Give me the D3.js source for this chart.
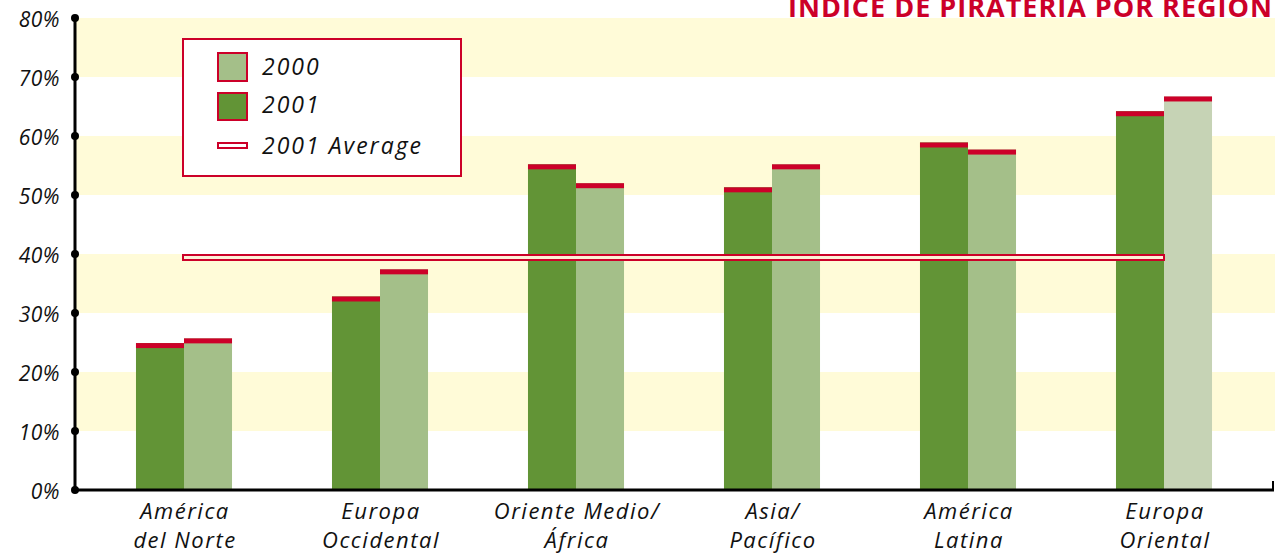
<!DOCTYPE html>
<html>
<head>
<meta charset="utf-8">
<script src="https://cdn.jsdelivr.net/npm/d3@7"></script>
<style>
  body { margin: 0; background: #fff; }
  svg { display: block; }
  text { font-family: "Open Sans", sans-serif; font-style: italic; fill: #111; }
</style>
</head>
<body>
<div id="chart"></div>
<script>
// data
var regions = ["América|del Norte", "Europa|Occidental", "Oriente Medio/|África",
               "Asia/|Pacífico", "América|Latina", "Europa|Oriental"];
var values2001 = [24.9, 32.8, 55.2, 51.3, 58.9, 64.2];
var values2000 = [25.7, 37.4, 52.0, 55.2, 57.7, 66.7];
var average2001 = 40;
var yTicks = [0, 10, 20, 30, 40, 50, 60, 70, 80];
var bandStarts = [10, 30, 50, 70];
var legendLabels = ["2000", "2001", "2001 Average"];
var title = "INDICE DE PIRATERIA POR REGION";

var width = 1275, height = 555;
var red = "#cc0029", dark = "#629436", light = "#a4bf89", paler = "#c6d3b5", cream = "#fffbd8";

var svg = d3.select("#chart").append("svg")
  .attr("width", width)
  .attr("height", height);

var yScale = d3.scaleLinear().domain([0, 80]).range([490, 18]);

var xScale = d3.scaleBand()
  .domain(regions)
  .range([86, 1262])
  .paddingInner(0.51)
  .paddingOuter(0.255);

var sub = d3.scaleBand()
  .domain(["2001", "2000"])
  .range([0, xScale.bandwidth()]);

// alternating background bands
svg.selectAll(".band")
  .data(bandStarts)
  .enter()
  .append("rect")
  .attr("class", "band")
  .attr("x", 75)
  .attr("y", function(d) { return yScale(d + 10); })
  .attr("width", width - 75)
  .attr("height", function(d) { return yScale(d) - yScale(d + 10); })
  .style("fill", cream);

// title (cut by the top edge, as in the original)
svg.append("text")
  .attr("x", 1273)
  .attr("y", 17)
  .attr("text-anchor", "end")
  .style("font-style", "normal")
  .style("font-weight", "bold")
  .style("font-size", "27px")
  .style("letter-spacing", "1px")
  .style("fill", red)
  .text(title);

// bars
var rows = regions.map(function(r, i) {
  return [
    {region: r, key: "2001", value: values2001[i], i: i},
    {region: r, key: "2000", value: values2000[i], i: i}
  ];
});

var groups = svg.selectAll(".group")
  .data(rows)
  .enter()
  .append("g")
  .attr("class", "group")
  .attr("transform", function(d, i) { return "translate(" + xScale(regions[i]) + ",0)"; });

groups.selectAll(".bar")
  .data(function(d) { return d; })
  .enter()
  .append("rect")
  .attr("class", "bar")
  .attr("x", function(d) { return sub(d.key); })
  .attr("y", function(d) { return yScale(d.value); })
  .attr("width", sub.bandwidth())
  .attr("height", function(d) { return yScale(0) - yScale(d.value); })
  .style("fill", function(d) {
    if (d.key == "2001") return dark;
    return d.i == regions.length - 1 ? paler : light;
  });

groups.selectAll(".cap")
  .data(function(d) { return d; })
  .enter()
  .append("rect")
  .attr("class", "cap")
  .attr("x", function(d) { return sub(d.key); })
  .attr("y", function(d) { return yScale(d.value); })
  .attr("width", sub.bandwidth())
  .attr("height", 5)
  .style("fill", red);

// average line
var avgX0 = xScale(regions[0]) + sub("2000") - 1;
var avgX1 = xScale(regions[regions.length - 1]) + sub("2000");
svg.append("rect")
  .attr("x", avgX0)
  .attr("y", yScale(average2001) + 1)
  .attr("width", avgX1 - avgX0)
  .attr("height", 5)
  .style("fill", "#fdf0d8")
  .style("stroke", red)
  .style("stroke-width", 2);

// axes
svg.append("line")
  .attr("x1", 75).attr("x2", 75)
  .attr("y1", yScale(80)).attr("y2", yScale(0))
  .style("stroke", "#000").style("stroke-width", 3);

svg.append("line")
  .attr("x1", 75).attr("x2", 1274)
  .attr("y1", yScale(0)).attr("y2", yScale(0))
  .style("stroke", "#000").style("stroke-width", 3);

svg.append("line")
  .attr("x1", 1273).attr("x2", 1273)
  .attr("y1", yScale(0) - 9).attr("y2", yScale(0))
  .style("stroke", "#000").style("stroke-width", 2);

svg.selectAll(".dot")
  .data(yTicks)
  .enter()
  .append("circle")
  .attr("cx", 75)
  .attr("cy", function(d) { return yScale(d); })
  .attr("r", 4)
  .style("fill", "#000");

svg.selectAll(".ylabel")
  .data(yTicks)
  .enter()
  .append("text")
  .attr("class", "ylabel")
  .attr("x", 60)
  .attr("y", function(d) { return yScale(d) + 9; })
  .attr("text-anchor", "end")
  .style("font-size", "21px")
  .style("letter-spacing", "0.5px")
  .text(function(d) { return d + "%"; });

// x labels
regions.forEach(function(r) {
  var lines = r.split("|");
  var t = svg.append("text")
    .attr("text-anchor", "middle")
    .style("font-size", "22px")
    .style("letter-spacing", "1.5px");
  lines.forEach(function(l, j) {
    t.append("tspan")
      .attr("x", xScale(r) + xScale.bandwidth() / 2 + 1)
      .attr("y", 519 + j * 29)
      .text(l);
  });
});

// legend
var legend = svg.append("g");
legend.append("rect")
  .attr("x", 183).attr("y", 39)
  .attr("width", 278).attr("height", 137)
  .style("fill", "#fff")
  .style("stroke", red)
  .style("stroke-width", 2);

legend.append("rect")
  .attr("x", 218).attr("y", 53).attr("width", 29).attr("height", 28)
  .style("fill", light).style("stroke", red).style("stroke-width", 2);
legend.append("rect")
  .attr("x", 218).attr("y", 93).attr("width", 29).attr("height", 27)
  .style("fill", dark).style("stroke", red).style("stroke-width", 2);
legend.append("rect")
  .attr("x", 218).attr("y", 143).attr("width", 29).attr("height", 5)
  .style("fill", "#fff").style("stroke", red).style("stroke-width", 2);

legend.selectAll(".ltext")
  .data(legendLabels)
  .enter()
  .append("text")
  .attr("x", 262)
  .attr("y", function(d, i) { return [75, 113, 154][i]; })
  .style("font-size", "23px")
  .style("letter-spacing", "2px")
  .text(function(d) { return d; });
</script>
</body>
</html>
